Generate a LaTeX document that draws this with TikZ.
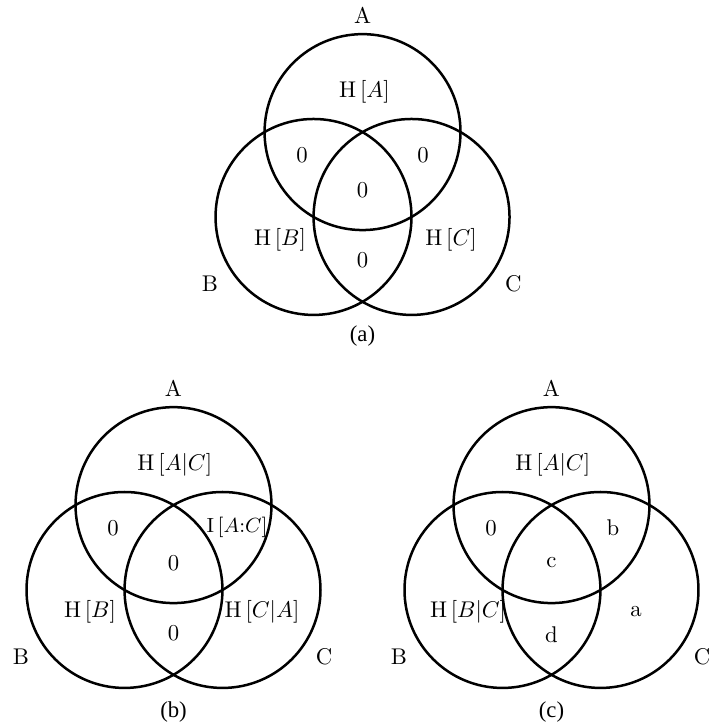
\documentclass[tikz,border=0pt]{standalone}
\usepackage{fontspec}
\newfontfamily\capfont{Liberation Serif}
\usepackage{amsmath}

\begin{document}
\begin{tikzpicture}[
    set/.style={line width=1.1pt},
    region/.style={inner sep=1pt},
    setname/.style={inner sep=1pt},
    caption/.style={font=\capfont, inner sep=1pt}]
  \useasboundingbox (0,0) rectangle (10.964,11.211);

  % (a)
  \begin{scope}[shift={(5.606,7.856)}]
    \draw[set] (0,1.312) circle (1.515);
    \draw[set] (-0.758,0) circle (1.515);
    \draw[set] (0.758,0) circle (1.515);
    \node[setname] (a-A) at (0,3.124) {A};
    \node[setname] (a-B) at (-2.36,-1.036) {B};
    \node[setname] (a-C) at (2.33,-1.036) {C};
    \node[region] (a-ha) at (0.03,1.933) {$\mathrm{H}\left[A\right]$};
    \node[region] (a-ab) at (-0.936,0.959) {$0$};
    \node[region] (a-ac) at (0.936,0.959) {$0$};
    \node[region] (a-abc) at (0,0.418) {$0$};
    \node[region] (a-hb) at (-1.276,-0.356) {$\mathrm{H}\left[B\right]$};
    \node[region] (a-hc) at (1.369,-0.356) {$\mathrm{H}\left[C\right]$};
    \node[region] (a-bc) at (0,-0.665) {$0$};
    \node[caption] (a-cap) at (0,-1.84) {(a)};
  \end{scope}

  % (b)
  \begin{scope}[shift={(2.683,2.088)}]
    \draw[set] (0,1.312) circle (1.515);
    \draw[set] (-0.758,0) circle (1.515);
    \draw[set] (0.758,0) circle (1.515);
    \node[setname] (b-A) at (0,3.124) {A};
    \node[setname] (b-B) at (-2.36,-1.036) {B};
    \node[setname] (b-C) at (2.33,-1.036) {C};
    \node[region] (b-ha) at (0.02,1.933) {$\mathrm{H}\left[A|C\right]$};
    \node[region] (b-ab) at (-0.936,0.959) {$0$};
    \node[region, font=\small] (b-ac) at (0.982,0.974) {$\mathrm{I}\left[A{:}C\right]$};
    \node[region] (b-abc) at (0,0.418) {$0$};
    \node[region] (b-hb) at (-1.291,-0.34) {$\mathrm{H}\left[B\right]$};
    \node[region] (b-hc) at (1.369,-0.34) {$\mathrm{H}\left[C|A\right]$};
    \node[region] (b-bc) at (0,-0.665) {$0$};
    \node[caption] (b-cap) at (0,-1.887) {(b)};
  \end{scope}

  % (c)
  \begin{scope}[shift={(8.528,2.088)}]
    \draw[set] (0,1.312) circle (1.515);
    \draw[set] (-0.758,0) circle (1.515);
    \draw[set] (0.758,0) circle (1.515);
    \node[setname] (c-A) at (0,3.124) {A};
    \node[setname] (c-B) at (-2.36,-1.036) {B};
    \node[setname] (c-C) at (2.33,-1.036) {C};
    \node[region] (c-ha) at (0.02,1.933) {$\mathrm{H}\left[A|C\right]$};
    \node[region] (c-ab) at (-0.936,0.959) {$0$};
    \node[region] (c-ac) at (0.951,0.959) {b};
    \node[region] (c-abc) at (0,0.418) {c};
    \node[region] (c-hb) at (-1.291,-0.34) {$\mathrm{H}\left[B|C\right]$};
    \node[region] (c-hc) at (1.307,-0.34) {a};
    \node[region] (c-bc) at (0,-0.696) {d};
    \node[caption] (c-cap) at (0,-1.887) {(c)};
  \end{scope}
\end{tikzpicture}
\end{document}
